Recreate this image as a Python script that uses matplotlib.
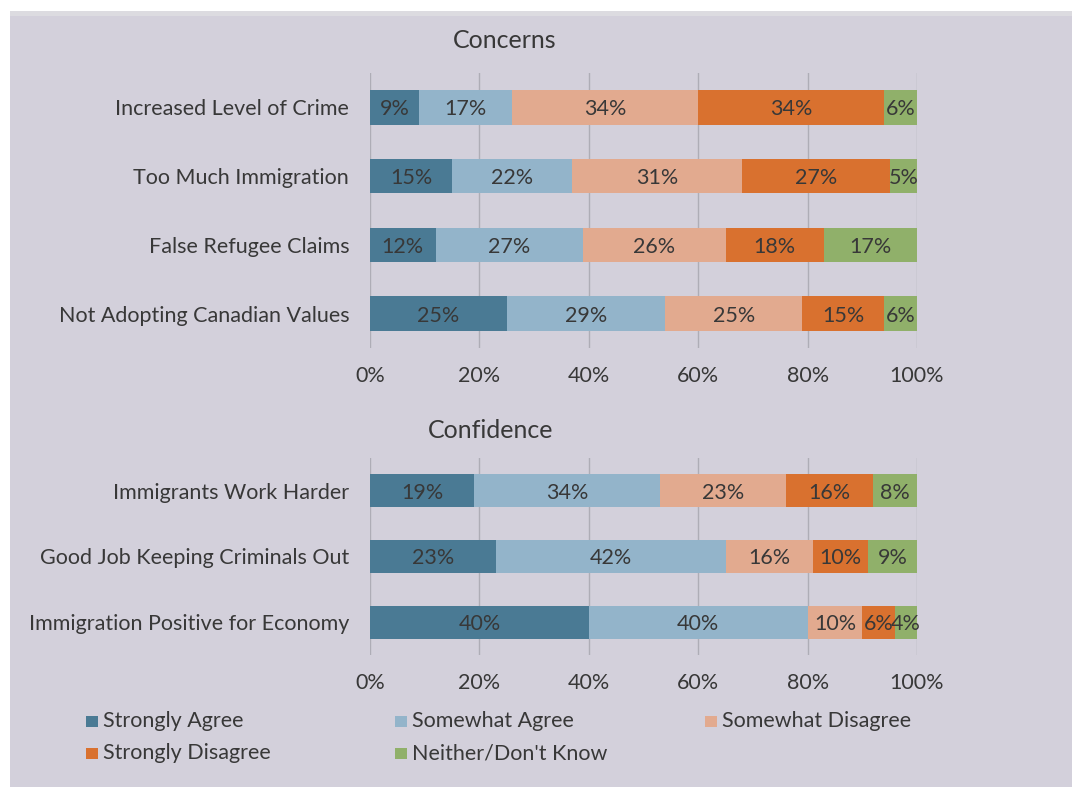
import matplotlib.pyplot as plt
from matplotlib.patches import Rectangle
import numpy as np

plt.rcParams["font.family"] = ["Lato", "DejaVu Sans"]

# series (share of respondents, %)
series = ["Strongly Agree", "Somewhat Agree", "Somewhat Disagree",
          "Strongly Disagree", "Neither/Don't Know"]
colors = ["#4a7a94", "#93b4ca", "#e2aa8f", "#d9712f", "#90b06a"]

concern_items = ["Increased Level of Crime", "Too Much Immigration",
                 "False Refugee Claims", "Not Adopting Canadian Values"]
concern_strong_agree = [9, 15, 12, 25]
concern_some_agree = [17, 22, 27, 29]
concern_some_disagree = [34, 31, 26, 25]
concern_strong_disagree = [34, 27, 18, 15]
concern_neither = [6, 5, 17, 6]

confid_items = ["Immigrants Work Harder", "Good Job Keeping Criminals Out",
                "Immigration Positive for Economy"]
confid_strong_agree = [19, 23, 40]
confid_some_agree = [34, 42, 40]
confid_some_disagree = [23, 16, 10]
confid_strong_disagree = [16, 10, 6]
confid_neither = [8, 9, 4]

ticks = [0, 20, 40, 60, 80, 100]
tick_labels = ["0%", "20%", "40%", "60%", "80%", "100%"]

BG = "#d3d0db"
TXT = "#383838"
FS = 15.5

W, H = 1072, 787
fig = plt.figure(figsize=(W / 100, H / 100), dpi=100, facecolor="white")
# slide-like panel behind the chart
fig.add_artist(Rectangle((10 / W, 0), 1, 1 - 11 / H,
                         transform=fig.transFigure, facecolor=BG,
                         edgecolor="none", zorder=-2))
fig.add_artist(Rectangle((10 / W, 1 - 16 / H), 1, 5 / H,
                         transform=fig.transFigure, facecolor="#dcdbe0",
                         edgecolor="none", zorder=-1))


def stacked(ax, items, cols):
    y = np.arange(len(items))[::-1]
    left = np.zeros(len(items))
    for vals, c in zip(cols, colors):
        vals = np.array(vals, dtype=float)
        ax.barh(y, vals, left=left, height=0.5, color=c, zorder=3)
        for yi, l, v in zip(y, left, vals):
            ax.text(l + v / 2, yi, f"{int(v)}%", ha="center",
                    va="center_baseline", fontsize=FS, color=TXT, zorder=4)
        left += vals
    ax.set_xlim(0, 100)
    ax.set_ylim(-0.5, len(items) - 0.5)
    ax.set_yticks(y)
    ax.set_yticklabels(items, fontsize=FS, color=TXT)
    ax.set_xticks(ticks)
    ax.set_xticklabels(tick_labels, fontsize=FS, color=TXT)
    ax.tick_params(axis="x", length=0, pad=13)
    ax.tick_params(axis="y", length=0, pad=15)
    ax.grid(axis="x", color="#aeadb6", lw=1, zorder=0)
    ax.set_facecolor("none")
    for s in ax.spines.values():
        s.set_visible(False)


ax1 = fig.add_axes([370 / W, 1 - 348 / H, 547 / W, 275 / H])
stacked(ax1, concern_items, [concern_strong_agree, concern_some_agree,
                             concern_some_disagree, concern_strong_disagree,
                             concern_neither])

ax2 = fig.add_axes([370 / W, 1 - 655 / H, 547 / W, 197 / H])
stacked(ax2, confid_items, [confid_strong_agree, confid_some_agree,
                            confid_some_disagree, confid_strong_disagree,
                            confid_neither])

fig.text(505 / W, 1 - 40 / H, "Concerns", ha="center", va="center",
         fontsize=18, color=TXT)
fig.text(491 / W, 1 - 431 / H, "Confidence", ha="center", va="center",
         fontsize=18, color=TXT)

# legend, two rows laid out by hand (marker centre positions in px)
leg_pos = [(92, 721), (401, 721), (711, 721), (92, 753), (401, 753)]
for (px, py), name, c in zip(leg_pos, series, colors):
    fig.add_artist(Rectangle(((px - 6) / W, 1 - (py + 5.5) / H),
                             12 / W, 11 / H, transform=fig.transFigure,
                             facecolor=c, edgecolor="none"))
    fig.text((px + 11) / W, 1 - py / H, name, ha="left",
             va="center", fontsize=FS, color=TXT)

fig.savefig("out.png", dpi=100, facecolor=fig.get_facecolor())
